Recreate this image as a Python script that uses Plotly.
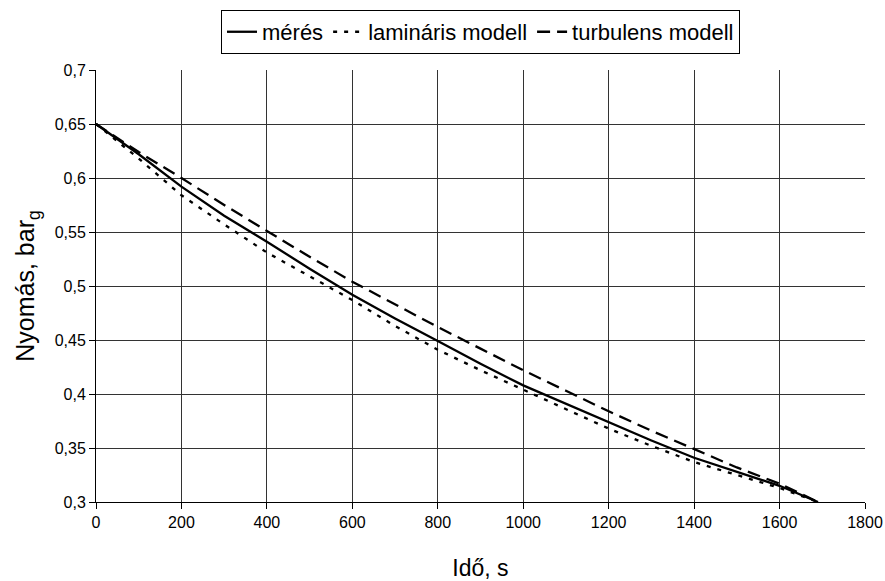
import plotly.graph_objects as go

time_s = [0, 100, 200, 300, 400, 500, 600, 700, 800, 900, 1000, 1100, 1200, 1300, 1400, 1500, 1600, 1690]
meres = [0.65, 0.622, 0.592, 0.565, 0.541, 0.516, 0.492, 0.470, 0.449, 0.428, 0.408, 0.391, 0.374, 0.357, 0.341, 0.328, 0.315, 0.300]
laminaris = [0.65, 0.618, 0.584, 0.557, 0.531, 0.509, 0.487, 0.463, 0.441, 0.422, 0.404, 0.386, 0.368, 0.352, 0.337, 0.325, 0.313, 0.300]
turbulens = [0.65, 0.624, 0.600, 0.575, 0.551, 0.527, 0.504, 0.483, 0.462, 0.442, 0.422, 0.403, 0.384, 0.366, 0.349, 0.332, 0.317, 0.300]

x_ticks = [0, 200, 400, 600, 800, 1000, 1200, 1400, 1600, 1800]
y_ticks = [0.3, 0.35, 0.4, 0.45, 0.5, 0.55, 0.6, 0.65, 0.7]
y_ticklabels = ["0,3", "0,35", "0,4", "0,45", "0,5", "0,55", "0,6", "0,65", "0,7"]

FONT = "Liberation Sans, Arial, sans-serif"

fig = go.Figure()
fig.add_trace(go.Scatter(x=time_s, y=meres, mode="lines", name="mérés",
                         line=dict(color="black", width=2.3, dash="solid")))
fig.add_trace(go.Scatter(x=time_s, y=laminaris, mode="lines", name="lamináris modell",
                         line=dict(color="black", width=2.3, dash="4px,7px")))
fig.add_trace(go.Scatter(x=time_s, y=turbulens, mode="lines", name="turbulens modell",
                         line=dict(color="black", width=2.3, dash="13px,7px")))

fig.update_layout(
    width=885, height=581,
    margin=dict(l=96, r=20, t=70, b=79, autoexpand=False),
    paper_bgcolor="white", plot_bgcolor="white",
    font=dict(family=FONT, size=16, color="black"),
    showlegend=True,
    legend=dict(orientation="h", x=0.5, xanchor="center", y=1.139, yanchor="top",
                bordercolor="black", borderwidth=1, font=dict(size=22),
                itemwidth=30, tracegroupgap=0),
    xaxis=dict(range=[0, 1800], tickvals=x_ticks, ticks="outside", ticklen=6,
               tickcolor="black", showgrid=True, gridcolor="#333", gridwidth=1,
               showline=True, linecolor="black", linewidth=1, zeroline=False,
               tickfont=dict(size=16), ticklabeloverflow="allow", automargin=False,
               title=dict(text="Idő, s", font=dict(size=23), standoff=32)),
    yaxis=dict(range=[0.3, 0.7], tickvals=y_ticks, ticktext=y_ticklabels, ticks="outside",
               ticklen=6, tickcolor="black", showgrid=True, gridcolor="#333", gridwidth=1,
               showline=True, linecolor="black", linewidth=1, zeroline=False,
               tickfont=dict(size=16), automargin=False,
               title=dict(text="Nyomás, bar<sub>g</sub>", font=dict(size=25), standoff=12)),
)

fig.write_html("out.html")
